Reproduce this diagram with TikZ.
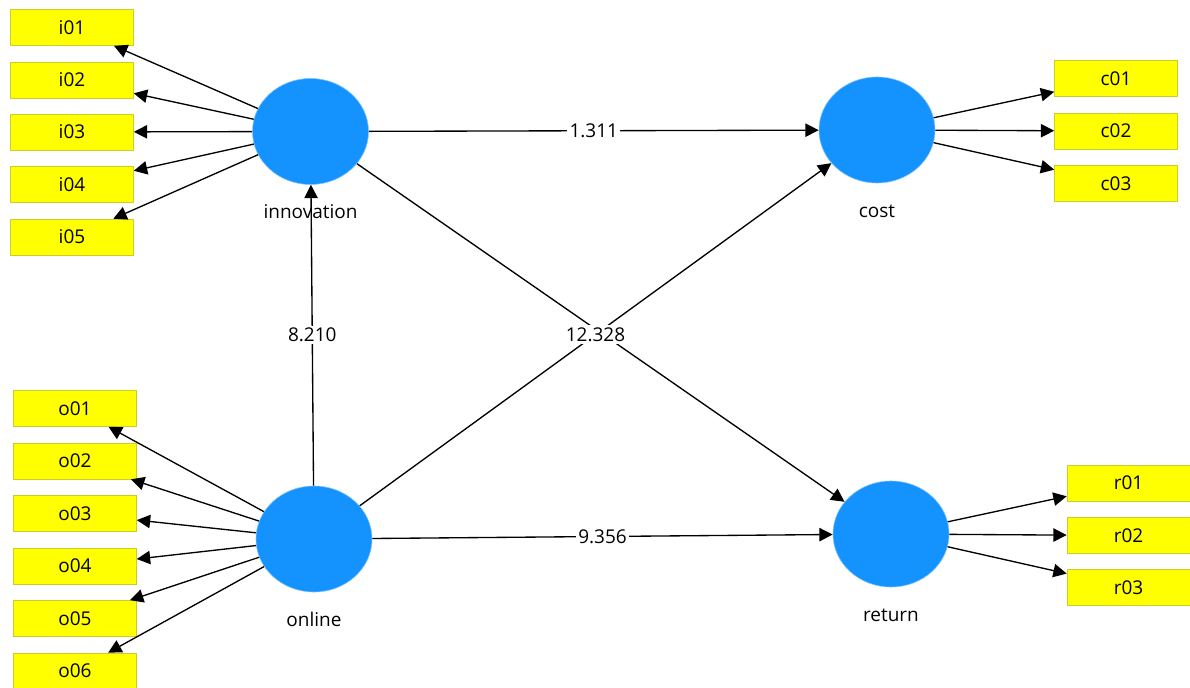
\documentclass[tikz,border=0pt]{standalone}
\usepackage{fontspec}
\setmainfont{Open Sans}
\usetikzlibrary{positioning}
\usetikzlibrary{calc}
\usetikzlibrary{shapes.geometric}
\usetikzlibrary{arrows.meta}
\definecolor{lvblue}{RGB}{20,147,255}
\definecolor{lvrim}{RGB}{130,195,255}
\definecolor{mvyellow}{RGB}{255,255,0}
\definecolor{mvrim}{RGB}{205,205,40}
\tikzset{>={Triangle[length=9.5pt,width=9.5pt]}}
\tikzset{lv/.style={ellipse, draw=lvrim, fill=lvblue, minimum width=2.9cm, minimum height=2.65cm, inner sep=0pt}}
\tikzset{mv/.style={draw=mvrim, fill=mvyellow, minimum width=3.075cm, minimum height=0.9cm, inner sep=0pt, font=\fontsize{13.5}{16}\selectfont}}
\tikzset{nm/.style={font=\fontsize{13.5}{16}\selectfont}}
\tikzset{ed/.style={fill=white, inner sep=1.5pt, font=\fontsize{13.5}{16}\selectfont}}
\tikzset{ln/.style={line width=0.95pt}}

\begin{document}
\begin{tikzpicture}[x=0.025cm, y=-0.025cm]
\useasboundingbox (0,0) rectangle (1190,688);

\node[lv] (innov) at (310.5, 131.5) {};
\node[lv] (cost) at (877, 130) {};
\node[lv] (online) at (314, 539) {};
\node[lv] (return) at (891, 534) {};

\node[nm] (innov txt) at ($(innov) + (0,80)$) {innovation};
\node[nm] (cost txt) at ($(cost) + (0,81)$) {cost};
\node[nm] (online txt) at ($(online) + (0,80)$) {online};
\node[nm] (return txt) at ($(return) + (0,81)$) {return};

\node[mv] (i01) at (72, 27.5) {i01};
\node[mv] (i02) at (72, 80) {i02};
\node[mv] (i03) at (72, 132) {i03};
\node[mv] (i04) at (72, 184.5) {i04};
\node[mv] (i05) at (72, 237) {i05};

\node[mv] (c01) at (1116, 78.5) {c01};
\node[mv] (c02) at (1116, 131) {c02};
\node[mv] (c03) at (1116, 183.5) {c03};

\node[mv] (o01) at (75, 408.5) {o01};
\node[mv] (o02) at (75, 461) {o02};
\node[mv] (o03) at (75, 513.5) {o03};
\node[mv] (o04) at (75, 566) {o04};
\node[mv] (o05) at (75, 618.5) {o05};
\node[mv] (o06) at (75, 671) {o06};

\node[mv] (r01) at (1128.5, 483) {r01};
\node[mv] (r02) at (1128.5, 535.5) {r02};
\node[mv] (r03) at (1128.5, 587.5) {r03};

% outer model
\draw[ln,->] (innov) -- (i01);
\draw[ln,->] (innov) -- (i02);
\draw[ln,->] (innov) -- (i03);
\draw[ln,->] (innov) -- (i04);
\draw[ln,->] (innov) -- (i05);

\draw[ln,->] (cost) -- (c01);
\draw[ln,->] (cost) -- (c02);
\draw[ln,->] (cost) -- (c03);

\draw[ln,->] (online) -- (o01);
\draw[ln,->] (online) -- (o02);
\draw[ln,->] (online) -- (o03);
\draw[ln,->] (online) -- (o04);
\draw[ln,->] (online) -- (o05);
\draw[ln,->] (online) -- (o06);

\draw[ln,->] (return) -- (r01);
\draw[ln,->] (return) -- (r02);
\draw[ln,->] (return) -- (r03);

% inner model
\draw[ln,->] (innov) -- (return);
\draw[ln,->] (innov) -- node[ed] {1.311} (cost);
\draw[ln,->] (online) -- node[ed] {8.210} (innov);
\draw[ln,->] (online) -- node[ed] {12.328} (cost);
\draw[ln,->] (online) -- node[ed] {9.356} (return);

\end{tikzpicture}
\end{document}
